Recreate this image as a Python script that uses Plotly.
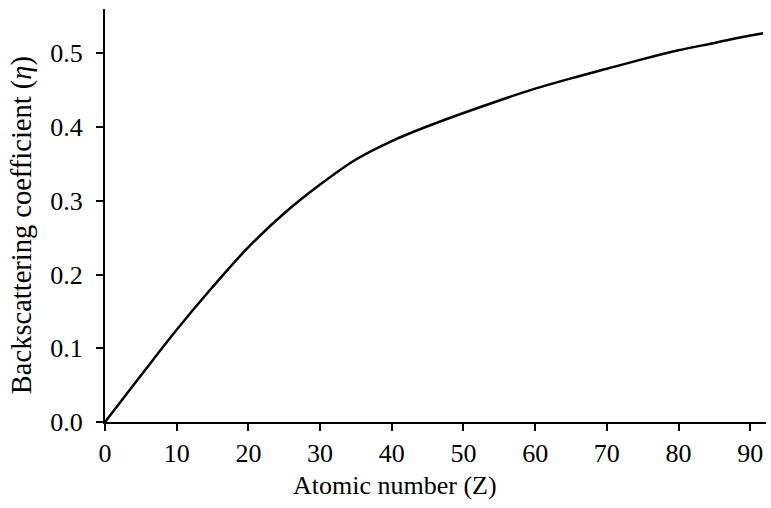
import plotly.graph_objects as go

# Data
atomic_number = [0, 5, 10, 15, 20, 25, 30, 35, 40, 45, 50, 55, 60, 65, 70, 75, 80, 85, 90, 91.8]
backscatter = [0.0, 0.063, 0.125, 0.183, 0.237, 0.283, 0.322, 0.356, 0.381, 0.401, 0.419,
               0.436, 0.452, 0.466, 0.479, 0.492, 0.504, 0.514, 0.524, 0.527]
x_ticks = [0, 10, 20, 30, 40, 50, 60, 70, 80, 90]
y_ticks = [0.0, 0.1, 0.2, 0.3, 0.4, 0.5]
y_tick_labels = ["0.0", "0.1", "0.2", "0.3", "0.4", "0.5"]

FONT = "Liberation Serif"

fig = go.Figure()
fig.add_trace(go.Scatter(x=atomic_number, y=backscatter, mode="lines",
                         line=dict(color="black", width=2.5, shape="spline", smoothing=1.0),
                         showlegend=False, hoverinfo="skip"))

fig.update_layout(
    width=771, height=508,
    margin=dict(l=105, r=5, t=9, b=86),
    paper_bgcolor="white", plot_bgcolor="white",
    font=dict(family=FONT, size=26, color="black"),
    xaxis=dict(range=[0, 92.2], tickvals=x_ticks, showgrid=False, zeroline=False,
               showline=True, linecolor="black", linewidth=2,
               ticks="outside", ticklen=7, tickwidth=2, tickcolor="black",
               tickfont=dict(family=FONT, size=26, color="black")),
    yaxis=dict(range=[0, 0.56], tickvals=y_ticks, ticktext=y_tick_labels,
               showgrid=False, zeroline=False,
               showline=True, linecolor="black", linewidth=2,
               ticks="outside", ticklen=7, tickwidth=2, tickcolor="black",
               ticklabelstandoff=8,
               tickfont=dict(family=FONT, size=26, color="black")),
    annotations=[
        dict(text="Atomic number (Z)", xref="paper", yref="paper",
             x=(395 - 105) / 661, y=-(485 - 421.7) / 412.7, xanchor="center", yanchor="middle",
             showarrow=False, font=dict(family=FONT, size=26, color="black")),
        dict(text="Backscattering coefficient (<i>η</i>)", xref="paper", yref="paper",
             x=-(105 - 22) / 661, y=(421.7 - 225) / 412.7, xanchor="center", yanchor="middle",
             textangle=-90, showarrow=False, font=dict(family=FONT, size=28.5, color="black")),
    ],
)

fig.write_html("out.html")
